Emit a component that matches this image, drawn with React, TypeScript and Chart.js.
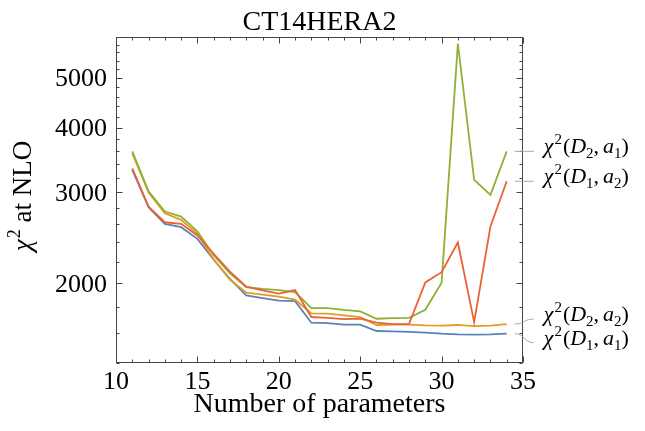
import React, { useEffect, useRef } from "react";
import { Chart, registerables } from "chart.js";

Chart.register(...registerables);

// ---------- data ----------
const nParams = [11, 12, 13, 14, 15, 16, 17, 18, 19, 20, 21, 22, 23, 24, 25, 26, 27, 28, 29, 30, 31, 32, 33, 34];
const chiD1a1 = [3314, 2806, 2606, 2567, 2437, 2220, 2039, 1893, 1871, 1849, 1845, 1676, 1673, 1662, 1662, 1615, 1612, 1609, 1604, 1596, 1591, 1589, 1591, 1596];
const chiD2a2 = [3569, 2995, 2732, 2653, 2493, 2225, 2030, 1917, 1900, 1883, 1858, 1747, 1745, 1732, 1719, 1659, 1662, 1662, 1656, 1654, 1659, 1651, 1654, 1666];
const chiD2a1 = [3601, 3013, 2753, 2692, 2521, 2265, 2090, 1965, 1950, 1939, 1922, 1789, 1789, 1774, 1763, 1706, 1711, 1713, 1776, 2004, 5828, 3171, 2965, 3601];
const chiD1a2 = [3338, 2814, 2624, 2606, 2474, 2280, 2105, 1968, 1937, 1908, 1939, 1719, 1713, 1703, 1706, 1676, 1666, 1666, 2006, 2100, 2398, 1680, 2575, 3151];

const xTickValues = [10, 15, 20, 25, 30, 35];
const yTickValues = [2000, 3000, 4000, 5000];
const xMin = 10, xMax = 35, yMin = 1400, yMax = 6000;

const titleText = "CT14HERA2";
const xTitleText = "Number of parameters";
const yTitleChi = "χ";
const yTitleSup = "2";
const yTitleRest = " at NLO";

// series label parts: D index, a index
const labelD = { d1a1: "1", d2a2: "2", d2a1: "2", d1a2: "1" };
const labelA = { d1a1: "1", d2a2: "2", d2a1: "1", d1a2: "2" };

// ---------- styles ----------
const BLUE = "#5E81B5";
const ORANGE = "#E19C24";
const GREEN = "#8FB032";
const RED = "#EB6235";
const FRAME = "#444444";
const SERIF = '"Liberation Serif", "Times New Roman", serif';

const series = [
  { key: "d1a2", data: chiD1a2, color: RED, dy: 0 },
  { key: "d2a1", data: chiD2a1, color: GREEN, dy: 0 },
  { key: "d2a2", data: chiD2a2, color: ORANGE, dy: -5 },
  { key: "d1a1", data: chiD1a1, color: BLUE, dy: 9 },
];

function drawChiLabel(ctx: CanvasRenderingContext2D, x: number, base: number, d: string, a: string) {
  const big = 22, small = 15;
  const it = `italic ${big}px ${SERIF}`;
  const up = `${big}px ${SERIF}`;
  const sm = `${small}px ${SERIF}`;
  ctx.textAlign = "left";
  ctx.textBaseline = "alphabetic";
  const put = (t: string, font: string, dy: number, gap = 0) => {
    ctx.font = font;
    ctx.fillText(t, x, base + dy);
    x += ctx.measureText(t).width + gap;
  };
  put("χ", it, 0, 1);
  put("2", sm, -9, 1);
  put("(", up, 0, 0);
  put("D", it, 0, 0);
  put(d, sm, 5, 0);
  put(",", up, 0, 4);
  put("a", it, 0, 0);
  put(a, sm, 5, 0);
  put(")", up, 0, 0);
}

const decorPlugin = {
  id: "decor",
  afterDatasetsDraw(chart: any) {
    const { ctx, chartArea } = chart;
    const { left, right, top, bottom } = chartArea;
    const xs = chart.scales.x;
    const ys = chart.scales.y;
    ctx.save();

    // frame
    const L = Math.round(left) + 0.5, R = Math.round(right) - 0.5;
    const T = Math.round(top) + 0.5, B = Math.round(bottom) - 0.5;
    ctx.strokeStyle = FRAME;
    ctx.lineWidth = 1;
    ctx.strokeRect(L, T, R - L, B - T);

    // ticks
    ctx.beginPath();
    for (let v = xMin; v <= xMax; v += 1) {
      const px = Math.round(xs.getPixelForValue(v)) + 0.5;
      const len = v % 5 === 0 ? 6 : 3;
      ctx.moveTo(px, B); ctx.lineTo(px, B - len);
      ctx.moveTo(px, T); ctx.lineTo(px, T + len);
    }
    for (let v = yMin; v <= yMax; v += 200) {
      const py = Math.round(ys.getPixelForValue(v)) + 0.5;
      const len = yTickValues.includes(v) ? 6 : 3;
      ctx.moveTo(L, py); ctx.lineTo(L + len, py);
      ctx.moveTo(R, py); ctx.lineTo(R - len, py);
    }
    ctx.stroke();

    // tick labels
    ctx.fillStyle = "#000";
    ctx.font = `26px ${SERIF}`;
    ctx.textBaseline = "alphabetic";
    ctx.textAlign = "center";
    for (const v of xTickValues) {
      ctx.fillText(String(v), xs.getPixelForValue(v), 389);
    }
    ctx.textAlign = "right";
    for (const v of yTickValues) {
      ctx.fillText(String(v), left - 9, ys.getPixelForValue(v) + 8.5);
    }

    // title
    ctx.textAlign = "center";
    ctx.font = `28px ${SERIF}`;
    ctx.fillText(titleText, (left + right) / 2, 30);

    // x title
    ctx.font = `28px ${SERIF}`;
    ctx.fillText(xTitleText, (left + right) / 2, 412);

    // y title (rotated)
    ctx.save();
    ctx.translate(31, 196);
    ctx.rotate(-Math.PI / 2);
    const fBig = `27px ${SERIF}`, fIt = `italic 27px ${SERIF}`, fSm = `18px ${SERIF}`;
    ctx.font = fIt; const w1 = ctx.measureText(yTitleChi).width + 1;
    ctx.font = fSm; const w2 = ctx.measureText(yTitleSup).width;
    ctx.font = fBig; const w3 = ctx.measureText(yTitleRest).width;
    let tx = -(w1 + w2 + w3) / 2;
    ctx.textAlign = "left";
    ctx.font = fIt; ctx.fillText(yTitleChi, tx, 0); tx += w1;
    ctx.font = fSm; ctx.fillText(yTitleSup, tx, -11); tx += w2;
    ctx.font = fBig; ctx.fillText(yTitleRest, tx, 0);
    ctx.restore();

    // callout labels
    const lastX = nParams[nParams.length - 1];
    const px = xs.getPixelForValue(lastX);
    ctx.strokeStyle = "#AAAAAA";
    ctx.lineWidth = 1;
    for (const s of series) {
      const py = ys.getPixelForValue(s.data[s.data.length - 1]);
      const sx = px + 8, sy = py;
      const ex = px + 27, ey = py + s.dy;
      ctx.beginPath();
      ctx.moveTo(sx, sy);
      ctx.bezierCurveTo(sx + 10, sy, ex - 10, ey, ex, ey);
      ctx.stroke();
      ctx.fillStyle = "#000";
      drawChiLabel(ctx, ex + 10, ey + 2, (labelD as any)[s.key], (labelA as any)[s.key]);
    }

    ctx.restore();
  },
};

export default function App() {
  const canvasRef = useRef<HTMLCanvasElement | null>(null);

  useEffect(() => {
    const canvas = canvasRef.current;
    if (!canvas) return;
    const chart = new Chart(canvas, {
      type: "line",
      data: {
        labels: nParams,
        datasets: series.map((s) => ({
          label: s.key,
          data: nParams.map((n, i) => ({ x: n, y: s.data[i] })),
          borderColor: s.color,
          backgroundColor: s.color,
          borderWidth: 1.8,
          pointRadius: 0,
          tension: 0,
          fill: false,
        })),
      },
      options: {
        responsive: false,
        animation: false,
        events: [],
        layout: { padding: { top: 37, right: 122, left: 0, bottom: 0 } },
        plugins: { legend: { display: false }, title: { display: false }, tooltip: { enabled: false } },
        scales: {
          x: {
            type: "linear",
            min: xMin,
            max: xMax,
            grid: { display: false, drawTicks: false },
            border: { display: false },
            ticks: { display: false, stepSize: 5 },
            afterFit: (scale: any) => { scale.height = 68; },
          },
          y: {
            type: "logarithmic",
            min: yMin,
            max: yMax,
            grid: { display: false, drawTicks: false },
            border: { display: false },
            ticks: { display: false },
            afterBuildTicks: (scale: any) => { scale.ticks = yTickValues.map((v) => ({ value: v })); },
            afterFit: (scale: any) => { scale.width = 116; },
          },
        },
      },
      plugins: [decorPlugin],
    } as any);
    return () => chart.destroy();
  }, []);

  return (
    <div style={{ position: "absolute", left: 0, top: 0, width: 645, height: 431, background: "#fff" }}>
      <canvas ref={canvasRef} width={645} height={431} style={{ width: 645, height: 431, display: "block" }} />
    </div>
  );
}
